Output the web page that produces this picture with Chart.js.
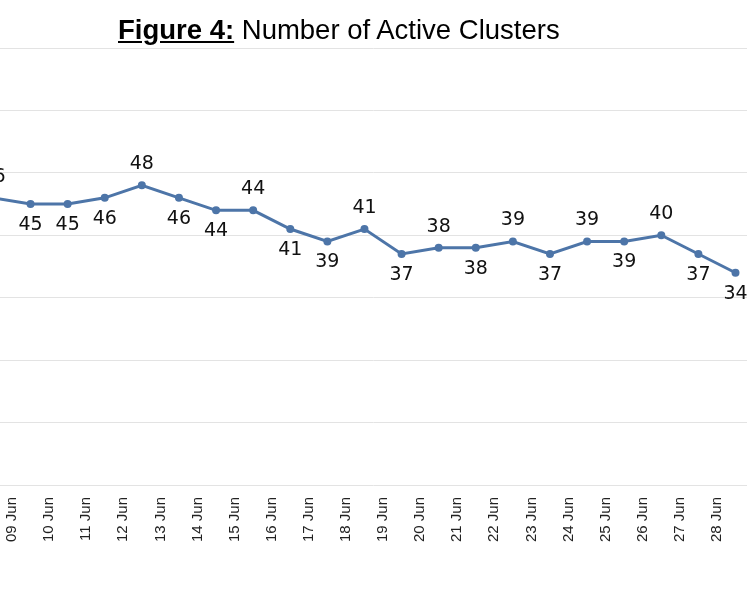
<!DOCTYPE html>
<html>
<head>
<meta charset="utf-8">
<script src="https://cdn.jsdelivr.net/npm/chart.js@4"></script>
<style>
  body { margin: 0; background: #fff; }
  #wrap { position: relative; width: 747px; height: 598px; overflow: hidden; }
  #title { position: absolute; top: 14px; left: 118px; font-family: "Liberation Sans", Arial, sans-serif; font-size: 27.5px; color: #000; white-space: nowrap; }
  #title b { text-decoration: underline; }
</style>
</head>
<body>
<div id="wrap">
  <div id="title"><b>Figure 4:</b> Number of Active Clusters</div>
  <canvas id="c" width="747" height="598"></canvas>
</div>
<script>
// Dates (index 0 = 08 Jun), one value per day, plotted midway between date ticks
const dates = ["08 Jun", "09 Jun", "10 Jun", "11 Jun", "12 Jun", "13 Jun", "14 Jun", "15 Jun", "16 Jun", "17 Jun",
  "18 Jun", "19 Jun", "20 Jun", "21 Jun", "22 Jun", "23 Jun", "24 Jun", "25 Jun", "26 Jun", "27 Jun", "28 Jun", "29 Jun"]
const clusters = [46, 45, 45, 46, 48, 46, 44, 44, 41, 39, 41, 37, 38, 38, 39, 37, 39, 39, 40, 37, 34]
// label above (a) or below (b) the point
const labelSide = ["a", "b", "b", "b", "a", "b", "b", "a", "b", "b", "a", "b", "a", "b", "a", "b", "a", "b", "a", "b", "b"]

const points = clusters.map((v, i) => ({ x: i + 0.5, y: v }))

// Draw the value next to each point
const valueLabels = {
  id: "valueLabels",
  afterDatasetsDraw(chart) {
    const ctx = chart.ctx
    const meta = chart.getDatasetMeta(0)
    ctx.save()
    ctx.font = "19px 'DejaVu Sans', sans-serif"
    ctx.fillStyle = "#111"
    ctx.textAlign = "center"
    ctx.textBaseline = "middle"
    meta.data.forEach((pt, i) => {
      const dy = labelSide[i] === "a" ? -21 : 21
      ctx.fillText(clusters[i], pt.x, pt.y + dy)
    })
    ctx.restore()
  },
}

new Chart(document.getElementById("c"), {
  type: "line",
  data: {
    datasets: [{
      data: points,
      borderColor: "#4d75a8",
      backgroundColor: "#4d75a8",
      borderWidth: 3,
      pointRadius: 2.5,
      tension: 0,
      clip: false,
    }],
  },
  options: {
    responsive: false,
    animation: false,
    layout: { autoPadding: false, padding: { top: 48, left: 0, right: 0, bottom: 0 } },
    plugins: { legend: { display: false }, tooltip: { enabled: false } },
    scales: {
      x: {
        type: "linear",
        min: 0.677,
        max: 20.81,
        grid: { display: false },
        border: { display: false },
        ticks: {
          autoSkip: false,
          maxRotation: 90,
          minRotation: 90,
          padding: 4,
          color: "#222",
          font: { family: "'Liberation Sans', Arial, sans-serif", size: 15 },
          callback: (v) => dates[v] || "",
        },
        afterBuildTicks: (s) => {
          s.ticks = dates.map((d, i) => ({ value: i })).filter((t) => t.value >= 1 && t.value <= 20)
        },
        afterFit: (s) => { s.height = 113 },
      },
      y: {
        min: 0,
        max: 70,
        ticks: { display: false, stepSize: 10 },
        grid: { color: "#e3e3e3", drawTicks: false },
        border: { display: false },
        afterFit: (s) => { s.width = 0 },
      },
    },
  },
  plugins: [valueLabels],
})
</script>
</body>
</html>
